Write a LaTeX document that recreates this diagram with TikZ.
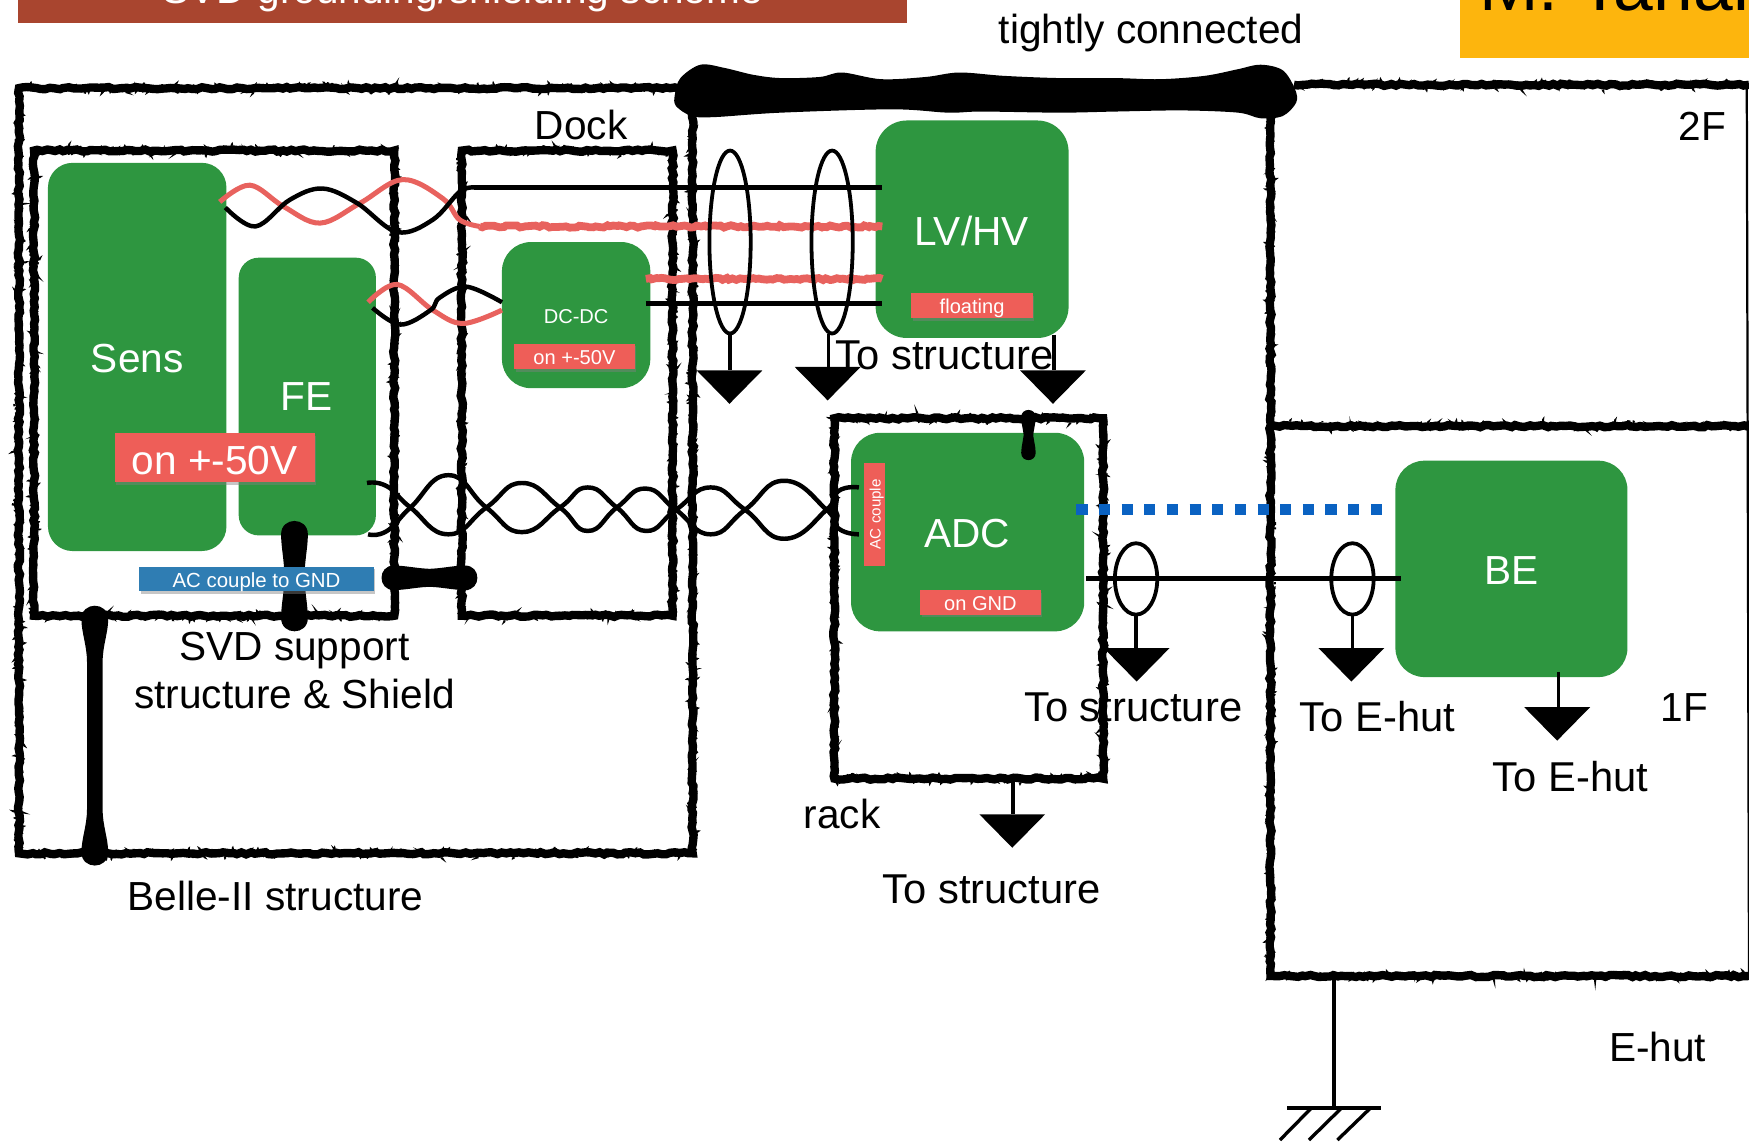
\documentclass[tikz,border=0pt]{standalone}
\usepackage{fontspec}
\setmainfont{Liberation Sans}
\usetikzlibrary{decorations.pathmorphing,shapes.geometric,shadows}
\definecolor{grn}{HTML}{2E9640}
\definecolor{lblred}{HTML}{EE5E58}
\definecolor{lblblue}{HTML}{2F7DB3}
\definecolor{hdr}{HTML}{A9452F}
\definecolor{org}{HTML}{FDB50D}
\definecolor{dots}{HTML}{0A62C2}
\definecolor{wirered}{HTML}{E8625E}
\newcommand\fs[1]{\fontsize{#1}{#1}\selectfont}
% dog-bone bond: start coordinate, rotation, length, half thickness, end radius
\newcommand\bone[5]{%
  \fill[shift={(#1)},rotate=#2]
    (0,{-#5}) .. controls ({#5},{-#5}) and ({2*#5},{-#4}) .. ({3.2*#5},{-#4})
    -- ({#3-3.2*#5},{-#4}) .. controls ({#3-2*#5},{-#4}) and ({#3-#5},{-#5}) .. (#3,{-#5})
    .. controls ({#3+1.33*#5},{-#5}) and ({#3+1.33*#5},{#5}) .. (#3,{#5})
    .. controls ({#3-#5},{#5}) and ({#3-2*#5},{#4}) .. ({#3-3.2*#5},{#4})
    -- ({3.2*#5},{#4}) .. controls ({2*#5},{#4}) and ({#5},{#5}) .. (0,{#5})
    .. controls ({-1.33*#5},{#5}) and ({-1.33*#5},{-#5}) .. (0,{-#5}) -- cycle;}
\tikzset{
  chalkline/.style={draw=black,line width=7.5pt,line cap=butt,line join=miter,
    preaction={draw=black,line width=1.8pt,dash pattern=on 2pt off 2pt,decorate,
      decoration={random steps,segment length=2pt,amplitude=4.8pt}},
    decorate,decoration={random steps,segment length=4pt,amplitude=1pt}},
  frame/.style={chalkline,rectangle,inner sep=0pt,outer sep=0pt},
  greenbox/.style={fill=grn,rectangle,rounded corners=#1,inner sep=0pt,outer sep=0pt},
  tag/.style={rectangle,fill=#1,text=white,inner sep=0pt,outer sep=0pt,text depth=0pt,
    drop shadow={shadow xshift=1.2pt,shadow yshift=-2.5pt,opacity=.45}},
  lab/.style={anchor=base,inner sep=0pt,outer sep=0pt,font=\fs{36.4}},
  lab37/.style={lab,font=\fs{37.4}},
  wlab/.style={lab,text=white},
  blackwire/.style={draw=black,line width=4pt},
  redwire/.style={draw=wirered,line width=4.5pt},
  redline/.style={draw=wirered,line width=7pt,decorate,
    decoration={random steps,segment length=3pt,amplitude=1.1pt}},
  shield/.style={draw=black,line width=3.4pt,ellipse,inner sep=0pt,outer sep=0pt},
  stem/.style={draw=black,line width=3pt},
  gnd/.pic={\fill (-29.5,0) -- (29.5,0) -- (0,30) -- cycle;}
}
\pgfmathsetseed{17}
\begin{document}
\begin{tikzpicture}[x=1pt,y=-1pt]
\useasboundingbox (0,0) rectangle (1568,1023);
% headers
\begin{scope}
\clip (0,0) rectangle (1568,1023);
\node[rectangle,fill=hdr,minimum width=797pt,minimum height=21pt,inner sep=0pt,outer sep=0pt,anchor=north west] (hdrbar) at (16,0) {};
\node[wlab] (hdrtext) at (415,3) {SVD grounding/shielding scheme};
\node[rectangle,fill=org,minimum width=259pt,minimum height=52pt,inner sep=0pt,outer sep=0pt,anchor=north west] (orgbar) at (1309,0) {};
\node[lab,font=\fs{64},anchor=base west] (author) at (1326,9) {M. Tanaka};
\end{scope}
% structure frames
\node[frame,minimum width=604pt,minimum height=686pt] (belle) at (319,422) {};
\node[frame,minimum width=323pt,minimum height=417pt] (svd) at (192,343.5) {};
\node[frame,minimum width=189pt,minimum height=417pt] (dock) at (508.5,343.5) {};
\node[frame,minimum width=241pt,minimum height=323pt] (rack) at (868.5,536.5) {};
\coordinate (f2a) at (1160,76);
\coordinate (f2b) at (1568,76);
\coordinate (f1a) at (1139,382);
\coordinate (f1b) at (1568,382);
\coordinate (spA) at (1139,85);
\coordinate (spB) at (1139,875);
\coordinate (spC) at (1568,875);
\coordinate (spD) at (1566,76);
\path[chalkline] (f2a) -- (f2b);
\path[chalkline] (f1a) -- (f1b);
\path[chalkline] (spA) -- (spB) -- (spC);
\draw[line width=2pt] (spD) -- (spC);
% tight connection
\fill plot[smooth cycle,tension=0.55] coordinates {(605,85) (610,70) (628,58) (650,61) (675,67) (700,70) (735,69) (755,65) (790,71) (830,69) (860,65) (900,68) (950,70) (1000,70) (1040,71) (1080,68) (1110,62) (1130,58) (1150,63) (1161,80) (1162,92) (1150,104) (1130,106) (1110,101) (1060,99) (1000,100) (950,101) (880,100) (850,101) (800,98) (700,101) (640,105) (620,104) (606,95)};
% green boxes
\node[greenbox=22pt,minimum width=160pt,minimum height=348pt] (sens) at (123,320) {};
\node[greenbox=18pt,minimum width=123pt,minimum height=249pt] (fe) at (275.5,355.5) {};
\node[greenbox=26pt,minimum width=133pt,minimum height=131pt] (dcdc) at (516.5,282.5) {};
\node[greenbox=28pt,minimum width=173pt,minimum height=195pt] (lvhv) at (871.5,205.5) {};
\node[greenbox=26pt,minimum width=209pt,minimum height=178pt] (adc) at (867.5,477) {};
\node[greenbox=26pt,minimum width=208pt,minimum height=194pt] (be) at (1355,510) {};
% box titles
\node[wlab] (sensT) at (123,334) {Sens};
\node[wlab] (feT) at (275,368) {FE};
\node[wlab,font=\fs{18}] (dcdcT) at (516.5,290) {DC-DC};
\node[wlab] (lvhvT) at (871,220) {LV/HV};
\node[wlab] (adcT) at (867,491) {ADC};
\node[wlab] (beT) at (1355,524) {BE};
% bonds
\coordinate (feB1) at (264,479);
\bone{feB1}{-90}{75}{9}{12}
\coordinate (leftB1) at (85,555);
\bone{leftB1}{-90}{209}{7}{12}
\coordinate (midB1) at (353,518);
\bone{midB1}{0}{64}{8}{11}
\coordinate (adcB1) at (922,374);
\bone{adcB1}{-90}{32}{4}{6.5}
% tags
\node[tag=lblred,minimum width=179pt,minimum height=44pt,font=\fs{36.4},text height=30pt] (tagFE) at (192.5,410) {on +-50V};
\node[tag=lblred,minimum width=108pt,minimum height=23pt,font=\fs{18},text height=15pt] (tagDC) at (515,319.5) {on +-50V};
\node[tag=lblred,minimum width=109pt,minimum height=22pt,font=\fs{18},text height=14.5pt] (tagLV) at (871.5,274) {floating};
\node[tag=lblred,minimum width=108pt,minimum height=22pt,font=\fs{18},text height=15pt] (tagADC) at (879,540) {on GND};
\node[tag=lblblue,minimum width=210pt,minimum height=22pt,font=\fs{18.3},text height=14.5pt] (tagAC) at (230,519) {AC couple to GND};
\node[rectangle,fill=lblred,text=white,inner sep=0pt,outer sep=0pt,minimum width=92pt,minimum height=18pt,font=\fs{13.6},rotate=90,text depth=0pt,text height=11pt] (tagCouple) at (784,461) {AC couple};
% straight wires to LV/HV
\coordinate (wA1) at (425,168);
\coordinate (wA2) at (791,168);
\coordinate (wB1) at (430,203);
\coordinate (wB2) at (791,203);
\coordinate (wC1) at (579,250);
\coordinate (wC2) at (791,250);
\coordinate (wD1) at (579,272);
\coordinate (wD2) at (791,272);
\path[redline] (wB1) -- (wB2);
\path[redline] (wC1) -- (wC2);
\draw[blackwire] (wA1) -- (wA2);
\draw[blackwire] (wD1) -- (wD2);
% twisted pairs
\coordinate (tpRedS) at (197,181);
\coordinate (tpBlkS) at (202,186);
\draw[redwire] plot[smooth,tension=0.6] coordinates {(tpRedS) (224,166) (254,185) (287,200) (323,182) (361,161) (397,178) (412,197) (wB1)};
\draw[blackwire] plot[smooth,tension=0.6] coordinates {(tpBlkS) (229,203) (260,179) (289,169) (320,182) (356,208) (388,197) (412,172) (wA1)};
\coordinate (lpRedS) at (330,271);
\coordinate (lpBlkS) at (334,276);
\coordinate (lpRedE) at (450,278);
\coordinate (lpBlkE) at (450,271);
\draw[redwire] plot[smooth,tension=0.6] coordinates {(lpRedS) (356,255) (388,278) (415,290) (lpRedE)};
\draw[blackwire] plot[smooth,tension=0.6] coordinates {(lpBlkS) (359,291) (386,278) (394,267) (418,257) (lpBlkE)};
\coordinate (sigA1) at (329,433);
\coordinate (sigB1) at (330,479);
\coordinate (sigA2) at (770,479);
\coordinate (sigB2) at (770,437);
\draw[blackwire] plot[smooth,tension=0.85] coordinates {(sigA1) (347,436) (368,455) (402,479) (436,455) (468,433) (502,455) (527,476) (553,455) (579,438) (606,457) (637,479) (668,457) (703,431) (741,457) (752,474) (sigA2)};
\draw[blackwire] plot[smooth,tension=0.85] coordinates {(sigB1) (347,476) (368,455) (402,426) (436,455) (468,477) (502,455) (527,437) (553,455) (579,476) (606,457) (637,437) (668,457) (703,483) (741,457) (752,440) (sigB2)};
% ADC - BE links
\coordinate (linkA) at (974,518.5);
\coordinate (linkB) at (1256,518.5);
\draw[blackwire] (linkA) -- (linkB);
\coordinate (dotA) at (965,456.5);
\coordinate (dotB) at (1241,456.5);
\draw[draw=dots,line width=10pt,dash pattern=on 10pt off 10.3pt] (dotA) -- (dotB);
% shields and grounds
\node[shield,minimum width=37pt,minimum height=164pt] (sh1) at (654.5,217) {};
\node[shield,minimum width=37pt,minimum height=164pt] (sh2) at (746,217) {};
\node[shield,minimum width=38pt,minimum height=64pt] (sh3) at (1018.5,519) {};
\node[shield,minimum width=38pt,minimum height=64pt] (sh4) at (1212.5,519) {};
\coordinate (g1) at (654,332);
\coordinate (g2) at (742,329);
\coordinate (g3) at (944,332);
\coordinate (g3top) at (945,300);
\coordinate (g4) at (907.5,730);
\coordinate (g5) at (1019,581);
\coordinate (g6) at (1211.5,581);
\coordinate (g7) at (1396,634);
\coordinate (g7top) at (1397,602);
\coordinate (g4top) at (908,698);
\coordinate (g2top) at (743,299);
\draw[stem] (sh1.south) -- (sh1.south |- g1);
\draw[stem] (g2top) -- (g2top |- g2);
\draw[stem] (g3top) -- (g3top |- g3);
\draw[stem] (g4top) -- (g4top |- g4);
\draw[stem] (sh3.south) -- (sh3.south |- g5);
\draw[stem] (sh4.south) -- (sh4.south |- g6);
\draw[stem] (g7top) -- (g7top |- g7);
\pic at (g1) {gnd};
\pic at (g2) {gnd};
\pic at (g3) {gnd};
\pic at (g4) {gnd};
\pic at (g5) {gnd};
\pic at (g6) {gnd};
\pic at (g7) {gnd};
% earth
\coordinate (ea1) at (1196,875);
\coordinate (ea2) at (1196,993);
\coordinate (eb1) at (1154,993);
\coordinate (eb2) at (1238,993);
\coordinate (eh1) at (1176,993);
\coordinate (eh1e) at (1147.5,1022);
\coordinate (eh2) at (1203,993);
\coordinate (eh2e) at (1173.5,1022);
\coordinate (eh3) at (1229,993);
\coordinate (eh3e) at (1199,1022);
\draw[stem] (ea1) -- (ea2);
\draw[stem,line width=3.6pt] (eb1) -- (eb2);
\draw[stem] (eh1) -- (eh1e);
\draw[stem] (eh2) -- (eh2e);
\draw[stem] (eh3) -- (eh3e);
% labels
\node[lab] (tDock) at (521,125) {Dock};
\node[lab] (tTight) at (1032,39) {tightly connected};
\node[lab] (t2F) at (1526,126) {2F};
\node[lab37] (tStr1) at (847,331) {To structure};
\node[lab] (tSvd1) at (264,592) {SVD support};
\node[lab] (tSvd2) at (264,635) {structure \& Shield};
\node[lab] (tBelle) at (247,816) {Belle-II structure};
\node[lab37] (tStr2) at (1016,647) {To structure};
\node[lab37] (tHut1) at (1235,656) {To E-hut};
\node[lab37] (tHut2) at (1408,710) {To E-hut};
\node[lab] (t1F) at (1510,647) {1F};
\node[lab] (tRack) at (755,743) {rack};
\node[lab37] (tStr3) at (889,810) {To structure};
\node[lab] (tEhut) at (1486,952) {E-hut};
\end{tikzpicture}
\end{document}
